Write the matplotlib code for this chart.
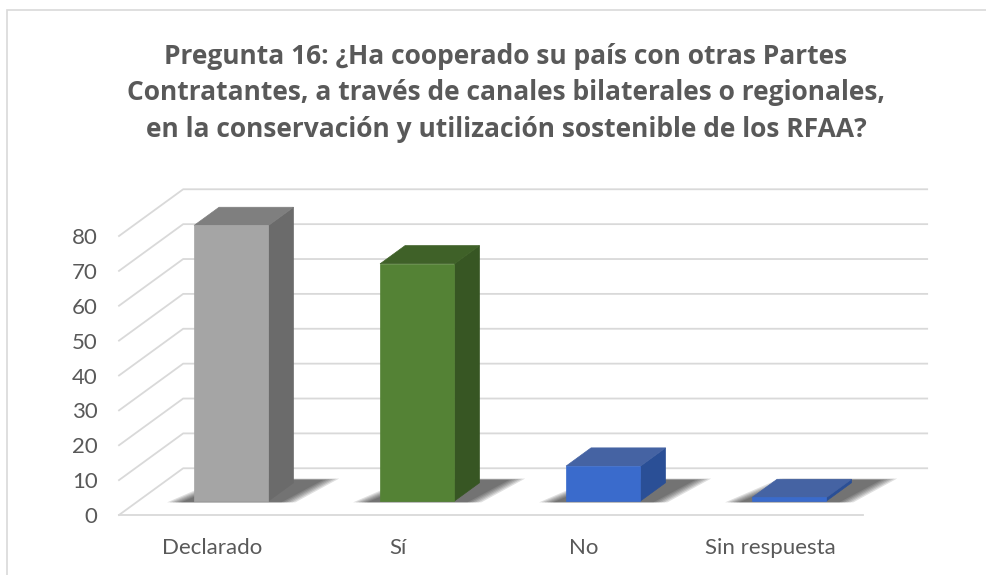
import matplotlib.pyplot as plt
from matplotlib.patches import Polygon, Rectangle

# Data
categorias = ["Declarado", "Sí", "No", "Sin respuesta"]
valores = [79, 68, 10, 1]
color_frente = ["#a5a5a5", "#548235", "#3a6bcc", "#3a6bcc"]
color_lado = ["#6b6b6b", "#375623", "#2a4f96", "#2a4f96"]
color_techo = ["#7f7f7f", "#3f6128", "#4563a3", "#4563a3"]
titulo = ("Pregunta 16: ¿Ha cooperado su país con otras Partes\n"
          "Contratantes, a través de canales bilaterales o regionales,\n"
          "en la conservación y utilización sostenible de los RFAA?")
yticks = list(range(0, 81, 10))

# fake 3D: depth shift in data units
DX = 0.345
DY = 13.4
Z0, Z1 = 0.3, 0.69
ANCHO = 0.2
GRIS = "#595959"
REJILLA = "#d9d9d9"

plt.rcParams["font.family"] = ["Lato", "DejaVu Sans"]


def proj(c, v, z):
    return (c + z * DX, v + z * DY)


fig = plt.figure(figsize=(9.87, 5.75), dpi=100)
ax = fig.add_axes([119 / 987, 60 / 575, 744 / 987, 279 / 575])
ax.set_xlim(-0.5, 3.5)
ax.set_ylim(0, 80)
for s in ax.spines.values():
    s.set_visible(False)

# chart border
fig.patches.append(Rectangle((7 / 987, -0.1), 1.2, (575 - 10) / 575 + 0.1,
                             transform=fig.transFigure, fill=False,
                             edgecolor=REJILLA, linewidth=1.2))

# walls gridlines
for v in yticks:
    a = proj(-0.5, v, 0)
    b = proj(-0.5, v, 1)
    c = proj(3.5, v, 1)
    ax.plot([a[0], b[0], c[0]], [a[1], b[1], c[1]], color=REJILLA,
            linewidth=1.3, clip_on=False, zorder=1)
ax.plot([-0.5, 3.5], [0, 0], color=REJILLA, linewidth=1.3,
        clip_on=False, zorder=1)

# bars
for i, h in enumerate(valores):
    x0, x1 = i - ANCHO, i + ANCHO
    # soft shadow on the floor
    for k in range(6):
        e = 0.015 * (5 - k)
        sh = [proj(x0 - 0.06 - e, 0, Z0 - 0.03),
              proj(x1 + 0.08 + e, 0, Z0 - 0.03),
              proj(x1 + 0.14 + e, 0, Z1 + 0.06 + 0.4 * e),
              proj(x0 + 0.06 - e, 0, Z1 + 0.06 + 0.4 * e)]
        ax.add_patch(Polygon(sh, closed=True, facecolor="black",
                             edgecolor="none", alpha=0.12, zorder=2,
                             clip_on=False))
    frente = [proj(x0, 0, Z0), proj(x1, 0, Z0), proj(x1, h, Z0), proj(x0, h, Z0)]
    lado = [proj(x1, 0, Z0), proj(x1, 0, Z1), proj(x1, h, Z1), proj(x1, h, Z0)]
    techo = [proj(x0, h, Z0), proj(x1, h, Z0), proj(x1, h, Z1), proj(x0, h, Z1)]
    for pts, col in [(lado, color_lado[i]), (techo, color_techo[i]),
                     (frente, color_frente[i])]:
        ax.add_patch(Polygon(pts, closed=True, facecolor=col,
                             edgecolor=col, linewidth=0.5, zorder=3,
                             clip_on=False))

ax.set_yticks(yticks)
ax.set_yticklabels([str(v) for v in yticks])
ax.set_xticks(range(len(categorias)))
ax.set_xticklabels(categorias)
ax.tick_params(axis="y", length=0, pad=15.5, labelsize=16, labelcolor=GRIS)
ax.tick_params(axis="x", length=0, pad=16.5, labelsize=16, labelcolor=GRIS)

fig.text(506 / 987, 1 - 93 / 575, titulo, ha="center", va="center",
         fontsize=19, fontweight="bold", color=GRIS, linespacing=1.44,
         family=["Open Sans", "DejaVu Sans"])

fig.savefig("out.png", dpi=100, facecolor="white")
